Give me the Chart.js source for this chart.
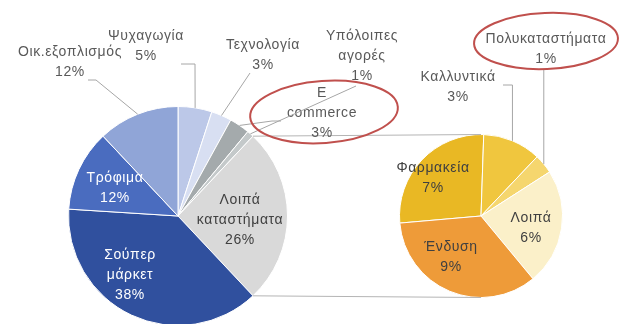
<!DOCTYPE html>
<html>
<head>
<meta charset="utf-8">
<script src="https://cdn.jsdelivr.net/npm/chart.js@4.4.1/dist/chart.umd.min.js"></script>
<style>
  html, body { margin: 0; padding: 0; background: #ffffff; }
  #wrap { position: relative; width: 620px; height: 324px; overflow: hidden; }
  #wrap canvas { position: absolute; left: 0; top: 0; }
</style>
</head>
<body>
<div id="wrap">
  <canvas id="mainPie" width="620" height="340"></canvas>
  <canvas id="subPie" width="620" height="340"></canvas>
</div>
<script>
// Main pie: spending share by category (%)
const mainCategories = ['Ψυχαγωγία', 'Τεχνολογία', 'E commerce', 'Υπόλοιπες αγορές',
                        'Λοιπά καταστήματα', 'Σούπερ μάρκετ', 'Τρόφιμα', 'Οικ.εξοπλισμός'];
const mainValues = [5, 3, 3, 1, 26, 38, 12, 12];

// Secondary pie: breakdown of "Λοιπά καταστήματα" (%)
const subCategories = ['Φαρμακεία', 'Καλλυντικά', 'Πολυκαταστήματα', 'Λοιπά', 'Ένδυση'];
const subValues = [7, 3, 1, 6, 9];

// Index of the main slice that is broken out into the secondary pie
const splitIndex = 4;

const mainColors = ['#bcc8e8', '#d8dff2', '#a4aaac', '#c4c9ca', '#d9d9d9', '#30509e', '#4a6cbf', '#90a5d7'];
const subColors  = ['#e9b824', '#f0c63e', '#f5d66e', '#fbf0c9', '#ee9b39'];

const FONT = '14px "Liberation Sans", Arial, sans-serif';
const LINE_H = 20;

// Label placement: text block centre x, first baseline y, colour, and leader route
const mainLabelLayout = [
  { x: 146, y: 40,  color: '#595959', leader: [[181, 64], [195, 64]] },
  { x: 263, y: 49,  color: '#595959', leader: [[250, 73]] },
  { x: 322, y: 97,  color: '#595959', leader: [[281, 121], [272, 121]] },
  { x: 362, y: 40,  color: '#595959', leader: [[356, 86]] },
  { x: 240, y: 204, color: '#404040' },
  { x: 130, y: 259, color: '#ffffff' },
  { x: 115, y: 182, color: '#ffffff' },
  { x: 70,  y: 56,  color: '#595959', leader: [[88, 80], [96, 80]] }
];
const subLabelLayout = [
  { x: 433, y: 172, color: '#404040' },
  { x: 458, y: 81,  color: '#595959', leader: [[503, 85], ['edge', 85]] },
  { x: 546, y: 43,  color: '#595959', leader: [['edge', 69]] },
  { x: 531, y: 222, color: '#404040' },
  { x: 451, y: 251, color: '#404040' }
];

// Hand-drawn style highlight rings
const highlights = [
  { cx: 324, cy: 112, rx: 74, ry: 31, rot: -0.07 },
  { cx: 546, cy: 41,  rx: 72, ry: 28, rot: -0.04 }
];

function edgePoint(arc) {
  const mid = (arc.startAngle + arc.endAngle) / 2;
  return { x: arc.x + arc.outerRadius * Math.cos(mid), y: arc.y + arc.outerRadius * Math.sin(mid) };
}

function drawLabels(ctx, meta, categories, values, layout) {
  meta.data.forEach((arc, i) => {
    const L = layout[i];
    if (!L) return;
    const lines = categories[i].split(' ').concat([values[i] + '%']);
    ctx.save();
    ctx.font = FONT;
    ctx.letterSpacing = '0.6px';
    ctx.fillStyle = L.color;
    ctx.textAlign = 'center';
    ctx.textBaseline = 'alphabetic';
    lines.forEach((t, k) => ctx.fillText(t, L.x, L.y + k * LINE_H));
    ctx.restore();
    if (L.leader) {
      const e = edgePoint(arc);
      ctx.save();
      ctx.strokeStyle = '#a6a6a6';
      ctx.lineWidth = 1;
      ctx.beginPath();
      L.leader.forEach((p, k) => {
        const px = p[0] === 'edge' ? e.x : p[0];
        if (k === 0) ctx.moveTo(px, p[1]); else ctx.lineTo(px, p[1]);
      });
      ctx.lineTo(e.x, e.y);
      ctx.stroke();
      ctx.restore();
    }
  });
}

const baseOptions = {
  responsive: false,
  animation: false,
  plugins: { legend: { display: false }, tooltip: { enabled: false } }
};

const mainChart = new Chart(document.getElementById('mainPie'), {
  type: 'pie',
  data: {
    labels: mainCategories,
    datasets: [{ data: mainValues, backgroundColor: mainColors, borderColor: '#ffffff', borderWidth: 1 }]
  },
  options: Object.assign({}, baseOptions, {
    rotation: 0,
    layout: { padding: { left: 68, right: 332, top: 106, bottom: 14 } }
  })
});

// Overlay: connector lines, data labels and highlight rings
const overlay = {
  id: 'overlay',
  afterDraw(chart) {
    const ctx = chart.ctx;
    const mainMeta = mainChart.getDatasetMeta(0);
    const subMeta = chart.getDatasetMeta(0);
    const split = mainMeta.data[splitIndex];
    const sub0 = subMeta.data[0];

    ctx.save();
    ctx.strokeStyle = '#b4b4b4';
    ctx.lineWidth = 1;
    ctx.beginPath();
    ctx.moveTo(split.x + split.outerRadius * Math.cos(split.startAngle), split.y + split.outerRadius * Math.sin(split.startAngle));
    ctx.lineTo(sub0.x, sub0.y - sub0.outerRadius);
    ctx.moveTo(split.x + split.outerRadius * Math.cos(split.endAngle), split.y + split.outerRadius * Math.sin(split.endAngle));
    ctx.lineTo(sub0.x, sub0.y + sub0.outerRadius);
    ctx.stroke();
    ctx.restore();

    drawLabels(ctx, mainMeta, mainCategories, mainValues, mainLabelLayout);
    drawLabels(ctx, subMeta, subCategories, subValues, subLabelLayout);

    ctx.save();
    ctx.strokeStyle = '#c0504d';
    ctx.lineWidth = 2;
    highlights.forEach(h => {
      ctx.beginPath();
      ctx.ellipse(h.cx, h.cy, h.rx, h.ry, h.rot, 0, Math.PI * 2);
      ctx.stroke();
    });
    ctx.restore();
  }
};

new Chart(document.getElementById('subPie'), {
  type: 'pie',
  data: {
    labels: subCategories,
    datasets: [{ data: subValues, backgroundColor: subColors, borderColor: '#ffffff', borderWidth: 1 }]
  },
  options: Object.assign({}, baseOptions, {
    rotation: 265,
    layout: { padding: { left: 399, right: 57, top: 134, bottom: 42 } }
  }),
  plugins: [overlay]
});
</script>
</body>
</html>
